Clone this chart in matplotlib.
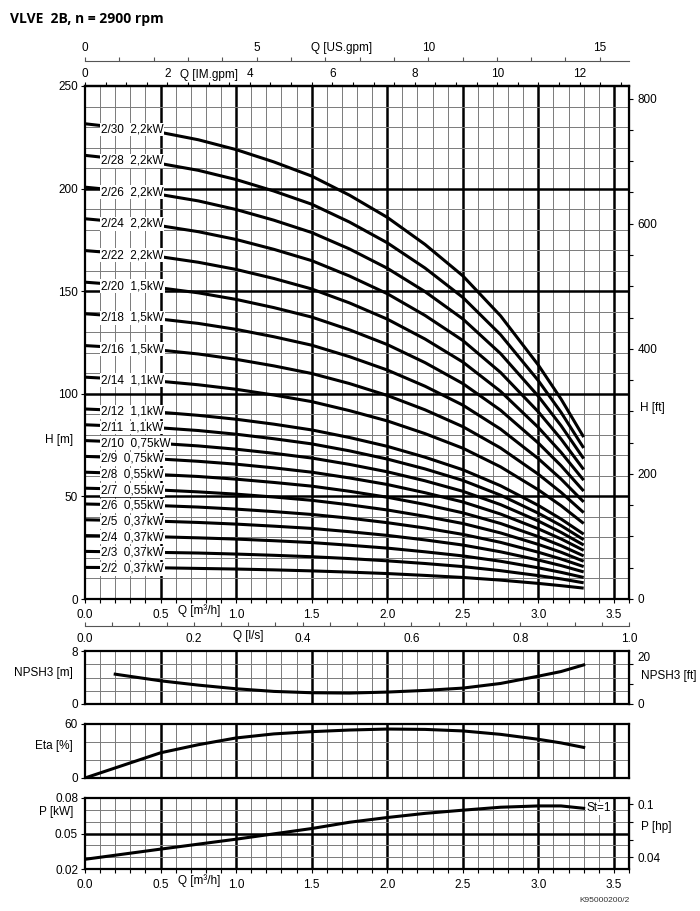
import numpy as np
import matplotlib.pyplot as plt

plt.rcParams['font.family'] = ['Liberation Sans', 'DejaVu Sans']
plt.rcParams['font.size'] = 8.5

# ---- data ----
q_head = [0, 0.5, 0.75, 1.0, 1.25, 1.5, 1.75, 2.0, 2.25, 2.5, 2.75, 3.0, 3.15, 3.3]
curve_labels = ["2/30  2,2kW", "2/28  2,2kW", "2/26  2,2kW", "2/24  2,2kW", "2/22  2,2kW",
                "2/20  1,5kW", "2/18  1,5kW", "2/16  1,5kW", "2/14  1,1kW", "2/12  1,1kW",
                "2/11  1,1kW", "2/10  0,75kW", "2/9  0,75kW", "2/8  0,55kW", "2/7  0,55kW",
                "2/6  0,55kW", "2/5  0,37kW", "2/4  0,37kW", "2/3  0,37kW", "2/2  0,37kW"]
heads = [
    [231.6, 227.4, 223.8, 219.0, 213.0, 206.1, 196.8, 186.0, 172.8, 157.5, 138.0, 114.0, 97.5, 78.9],
    [216.2, 212.2, 208.9, 204.4, 198.8, 192.4, 183.7, 173.6, 161.3, 147.0, 128.8, 106.4, 91.0, 73.6],
    [200.7, 197.1, 194.0, 189.8, 184.6, 178.6, 170.6, 161.2, 149.8, 136.5, 119.6, 98.8, 84.5, 68.4],
    [185.3, 181.9, 179.0, 175.2, 170.4, 164.9, 157.4, 148.8, 138.2, 126.0, 110.4, 91.2, 78.0, 63.1],
    [169.8, 166.8, 164.1, 160.6, 156.2, 151.1, 144.3, 136.4, 126.7, 115.5, 101.2, 83.6, 71.5, 57.9],
    [154.4, 151.6, 149.2, 146.0, 142.0, 137.4, 131.2, 124.0, 115.2, 105.0, 92.0, 76.0, 65.0, 52.6],
    [139.0, 136.4, 134.3, 131.4, 127.8, 123.7, 118.1, 111.6, 103.7, 94.5, 82.8, 68.4, 58.5, 47.3],
    [123.5, 121.3, 119.4, 116.8, 113.6, 109.9, 105.0, 99.2, 92.2, 84.0, 73.6, 60.8, 52.0, 42.1],
    [108.1, 106.1, 104.4, 102.2, 99.4, 96.2, 91.8, 86.8, 80.6, 73.5, 64.4, 53.2, 45.5, 36.8],
    [92.6, 91.0, 89.5, 87.6, 85.2, 82.4, 78.7, 74.4, 69.1, 63.0, 55.2, 45.6, 39.0, 31.6],
    [84.9, 83.4, 82.1, 80.3, 78.1, 75.6, 72.2, 68.2, 63.4, 57.8, 50.6, 41.8, 35.8, 28.9],
    [77.2, 75.8, 74.6, 73.0, 71.0, 68.7, 65.6, 62.0, 57.6, 52.5, 46.0, 38.0, 32.5, 26.3],
    [69.5, 68.2, 67.1, 65.7, 63.9, 61.8, 59.0, 55.8, 51.8, 47.3, 41.4, 34.2, 29.3, 23.7],
    [61.8, 60.6, 59.7, 58.4, 56.8, 55.0, 52.5, 49.6, 46.1, 42.0, 36.8, 30.4, 26.0, 21.0],
    [54.0, 53.1, 52.2, 51.1, 49.7, 48.1, 45.9, 43.4, 40.3, 36.8, 32.2, 26.6, 22.8, 18.4],
    [46.3, 45.5, 44.8, 43.8, 42.6, 41.2, 39.4, 37.2, 34.6, 31.5, 27.6, 22.8, 19.5, 15.8],
    [38.6, 37.9, 37.3, 36.5, 35.5, 34.4, 32.8, 31.0, 28.8, 26.3, 23.0, 19.0, 16.3, 13.2],
    [30.9, 30.3, 29.8, 29.2, 28.4, 27.5, 26.2, 24.8, 23.0, 21.0, 18.4, 15.2, 13.0, 10.5],
    [23.2, 22.7, 22.4, 21.9, 21.3, 20.6, 19.7, 18.6, 17.3, 15.8, 13.8, 11.4, 9.8, 7.9],
    [15.4, 15.2, 14.9, 14.6, 14.2, 13.7, 13.1, 12.4, 11.5, 10.5, 9.2, 7.6, 6.5, 5.3],
]

q_npsh = [0.2, 0.5, 0.75, 1.0, 1.25, 1.5, 1.75, 2.0, 2.25, 2.5, 2.75, 3.0, 3.15, 3.3]
npsh = [4.5, 3.5, 2.85, 2.3, 1.9, 1.7, 1.65, 1.8, 2.05, 2.4, 3.1, 4.2, 4.9, 5.9]

q_eta = [0, 0.25, 0.5, 0.75, 1.0, 1.25, 1.5, 1.75, 2.0, 2.25, 2.5, 2.75, 3.0, 3.15, 3.3]
eta = [0, 14, 28, 37, 44.5, 49, 51.5, 53.3, 54.4, 54, 52.3, 48.5, 43, 39, 34]

q_pow = [0, 0.5, 1.0, 1.5, 1.75, 2.0, 2.25, 2.5, 2.75, 3.0, 3.15, 3.3]
power = [0.0282, 0.0368, 0.0452, 0.0542, 0.0595, 0.0635, 0.067, 0.0697, 0.0722, 0.0733, 0.0733, 0.0713]

IMGPM = 0.272765   # m3/h per IM gpm
USGPM = 0.2271247  # m3/h per US gpm
FT = 0.3048
HP = 0.7457

# ---- layout in pixels ----
W, H = 700, 911
X0, X1 = 85, 629


def box(y0, y1, x0=X0, x1=X1):
    return [x0 / W, 1 - y1 / H, (x1 - x0) / W, max(y1 - y0, 0.01) / H]


def ftext(x, y, s, **kw):
    fig.text(x / W, 1 - y / H, s, va='center', **kw)


def qgrid(ax):
    for k in range(1, 36):
        thick = k % 5 == 0
        ax.axvline(k / 10, color='black' if thick else '#7a7a7a', lw=1.8 if thick else 0.7, zorder=1)


def frame(ax):
    for s in ax.spines.values():
        s.set_linewidth(1.6)
    ax.set_xlim(0, 3.6)
    ax.tick_params(which='both', direction='out', length=3, width=0.8, pad=2, labelsize=8.5)


fig = plt.figure(figsize=(7, 9.11), dpi=100)

# ---- main H-Q chart ----
ax = fig.add_axes(box(86, 599))
frame(ax)
ax.set_ylim(0, 250)
qgrid(ax)
for k in range(1, 25):
    thick = k % 5 == 0
    ax.axhline(k * 10, color='black' if thick else '#7a7a7a', lw=1.8 if thick else 0.7, zorder=1)
for lab, h in zip(curve_labels, heads):
    ax.plot(q_head, h, color='black', lw=2.2, zorder=3, solid_capstyle='butt', solid_joinstyle='round')
    ax.text(0.105, h[0] * 0.99 - 0.5, lab, va='center', ha='left', fontsize=8.5, zorder=4,
            bbox=dict(boxstyle='square,pad=0.08', fc='white', ec='none'))
ax.set_xticks(np.arange(0, 3.51, 0.5))
ax.set_xticklabels([f"{v:.1f}" for v in np.arange(0, 3.51, 0.5)])
ax.set_xticks(np.arange(0, 3.61, 0.1), minor=True)
ax.set_yticks(range(0, 251, 50))
ax.tick_params(axis='x', pad=4)

ax_im = ax.secondary_xaxis('top', functions=(lambda q: q / IMGPM, lambda g: g * IMGPM))
ax_im.set_xticks(range(0, 13, 2))
ax_im.set_xticks(np.arange(0, 13.1, 0.5), minor=True)
ax_im.tick_params(which='both', length=3, width=0.8, pad=1, labelsize=8.5)
ax_im.spines['top'].set_linewidth(1.6)

ax_ft = ax.secondary_yaxis('right', functions=(lambda m: m / FT, lambda f: f * FT))
ax_ft.set_yticks(range(0, 801, 200))
ax_ft.set_yticks(range(0, 801, 50), minor=True)
ax_ft.tick_params(which='both', length=3, width=0.8, pad=3, labelsize=8.5)

# US gpm scale above
ax_us = fig.add_axes(box(61, 61))
ax_us.set_xlim(0, 3.6 / USGPM)
for s in ['bottom', 'left', 'right']:
    ax_us.spines[s].set_visible(False)
ax_us.spines['top'].set_color('#555555')
ax_us.yaxis.set_visible(False)
ax_us.xaxis.tick_top()
ax_us.set_xticks([0, 5, 10, 15])
ax_us.set_xticks(range(0, 16), minor=True)
ax_us.tick_params(which='both', direction='out', length=3, width=0.8, color='#555555', pad=2, labelsize=8.5)
ax_us.patch.set_visible(False)

# l/s scale below
ax_ls = fig.add_axes(box(626, 626))
ax_ls.set_xlim(0, 1.0)
for s in ['top', 'left', 'right']:
    ax_ls.spines[s].set_visible(False)
ax_ls.spines['bottom'].set_color('#555555')
ax_ls.yaxis.set_visible(False)
ax_ls.set_xticks(np.arange(0, 1.01, 0.2))
ax_ls.set_xticklabels([f"{v:.1f}" for v in np.arange(0, 1.01, 0.2)])
ax_ls.set_xticks(np.arange(0, 1.01, 0.05), minor=True)
ax_ls.tick_params(which='both', direction='in', length=3, width=0.8, color='#555555', pad=5, labelsize=8.5)
ax_ls.patch.set_visible(False)

# ---- NPSH ----
ax_n = fig.add_axes(box(651, 704))
frame(ax_n)
ax_n.set_ylim(0, 8)
qgrid(ax_n)
for v in [2, 4, 6]:
    ax_n.axhline(v, color='#7a7a7a', lw=0.7, zorder=1)
ax_n.plot(q_npsh, npsh, color='black', lw=2.2, zorder=3)
ax_n.set_xticks([])
ax_n.set_yticks([0, 8])
ax_n.tick_params(axis='y', pad=2)
ax_nf = ax_n.secondary_yaxis('right', functions=(lambda m: m / FT, lambda f: f * FT))
ax_nf.set_yticks([0, 10, 20])
ax_nf.set_yticklabels(['0', '', '20'])
ax_nf.tick_params(length=3, width=0.8, pad=3, labelsize=8.5)
ax_nf.get_yticklabels()[2].set_va('bottom')

# ---- Eta ----
ax_e = fig.add_axes(box(724, 778))
frame(ax_e)
ax_e.set_ylim(0, 60)
qgrid(ax_e)
for v in [20, 40]:
    ax_e.axhline(v, color='#7a7a7a', lw=0.7, zorder=1)
ax_e.plot(q_eta, eta, color='black', lw=2.2, zorder=3)
ax_e.set_xticks([])
ax_e.set_yticks([0, 60])

# ---- Power ----
ax_p = fig.add_axes(box(798, 869))
frame(ax_p)
ax_p.set_ylim(0.02, 0.08)
qgrid(ax_p)
for k in range(3, 8):
    thick = k == 5
    ax_p.axhline(k / 100, color='black' if thick else '#7a7a7a', lw=1.8 if thick else 0.7, zorder=1)
ax_p.plot(q_pow, power, color='black', lw=2.2, zorder=3)
ax_p.text(3.32, power[-1], "St=1", va='center', ha='left', fontsize=8.5, zorder=4,
          bbox=dict(boxstyle='square,pad=0.05', fc='white', ec='none'))
ax_p.set_xticks(np.arange(0, 3.51, 0.5))
ax_p.set_xticklabels([f"{v:.1f}" for v in np.arange(0, 3.51, 0.5)])
ax_p.set_xticks(np.arange(0, 3.61, 0.1), minor=True)
ax_p.tick_params(axis='x', pad=4)
ax_p.set_yticks([0.02, 0.05, 0.08])
ax_p.set_yticklabels(['0.02', '0.05', '0.08'])
ax_php = ax_p.secondary_yaxis('right', functions=(lambda k: k / HP, lambda h: h * HP))
ax_php.set_yticks([0.04, 0.06, 0.08, 0.1])
ax_php.set_yticklabels(['0.04', '', '', '0.1'])
ax_php.tick_params(length=3, width=0.8, pad=3, labelsize=8.5)

# ---- texts ----
ftext(10, 19, "VLVE  2B, n = 2900 rpm", fontsize=10, fontweight='bold', family=['Open Sans', 'DejaVu Sans'])
ftext(311, 48, "Q [US.gpm]")
ftext(180, 75, "Q [IM.gpm]")
ftext(178, 611, "Q [m³/h]")
ftext(233, 636, "Q [l/s]")
ftext(178, 881, "Q [m³/h]")
ftext(73, 440, "H [m]", ha='right')
ftext(640, 408, "H [ft]")
ftext(73, 673, "NPSH3 [m]", ha='right')
ftext(641, 676, "NPSH3 [ft]")
ftext(73, 746, "Eta [%]", ha='right')
ftext(73, 812, "P [kW]", ha='right')
ftext(641, 827, "P [hp]")
ftext(630, 901, "K95000200/2", ha='right', fontsize=6, color='#333333')

fig.savefig("out.png", dpi=100)
